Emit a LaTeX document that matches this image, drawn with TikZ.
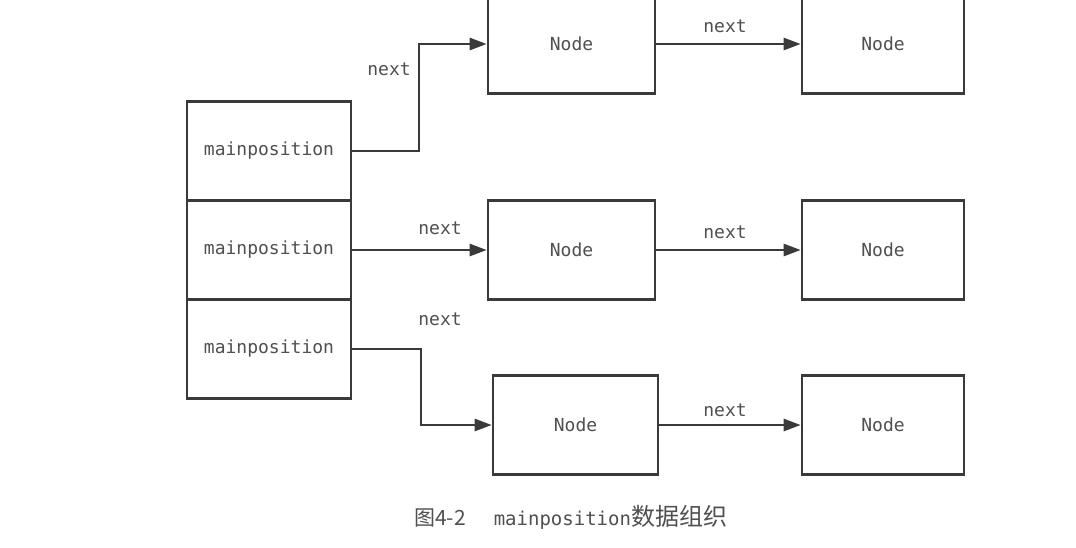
\documentclass[tikz,border=0pt]{standalone}
\usepackage{fontspec}
\setmonofont{DejaVu Sans Mono}
\newfontfamily\cjk{Noto Sans CJK SC}
\usetikzlibrary{arrows.meta}
\definecolor{ink}{HTML}{3A3A3A}
\definecolor{txt}{HTML}{505050}
\tikzset{
  box/.style={draw=ink, line width=2.6pt, minimum width=#1, minimum height=99pt, inner sep=0pt, font=\ttfamily\fontsize{18}{21}\selectfont, text=txt},
  box/.default=165pt,
  link/.style={draw=ink, line width=2.6pt, -{Triangle[length=17pt,width=12pt]}},
  lbl/.style={font=\ttfamily\fontsize{18}{21}\selectfont, text=txt, inner sep=0pt}
}
\begin{document}
\begin{tikzpicture}[x=1pt,y=-1pt]
\useasboundingbox[fill=white] (0,0) rectangle (1076,547);
% mainposition column
\node[box=164pt] (m1) at (269,151) {mainposition};
\node[box=164pt] (m2) at (269,250) {mainposition};
\node[box=164pt] (m3) at (269,349) {mainposition};
% nodes
\node[box=167pt] (a1) at (571.5,44) {Node};
\node[box=162pt] (b1) at (883,44) {Node};
\node[box=167pt] (a2) at (571.5,250) {Node};
\node[box=162pt] (b2) at (883,250) {Node};
\node[box=165pt] (a3) at (575.5,425) {Node};
\node[box=162pt] (b3) at (883,425) {Node};
% connectors
\coordinate (c1) at (419,151);
\coordinate (c3) at (421,349);
\draw[link] (m1.east) -- (c1) |- (a1.west);
\draw[link] (m2.east) -- (a2.west);
\draw[link] (m3.east) -- (c3) |- (a3.west);
\draw[link] (a1.east) -- (b1.west);
\draw[link] (a2.east) -- (b2.west);
\draw[link] (a3.east) -- (b3.west);
% labels
\node[lbl] (l1) at (389,69) {next};
\node[lbl] (l2) at (440,228) {next};
\node[lbl] (l3) at (440,319) {next};
\node[lbl] (l4) at (725,26) {next};
\node[lbl] (l5) at (725,232) {next};
\node[lbl] (l6) at (725,410) {next};
% caption
\node[text=txt, inner sep=0pt, anchor=west] (cap) at (414,517) {{\cjk\fontsize{21}{24}\selectfont 图4-2}\hspace{28pt}{\ttfamily\fontsize{19}{22}\selectfont mainposition}{\cjk\fontsize{24}{26}\selectfont 数据组织}};
\end{tikzpicture}
\end{document}
